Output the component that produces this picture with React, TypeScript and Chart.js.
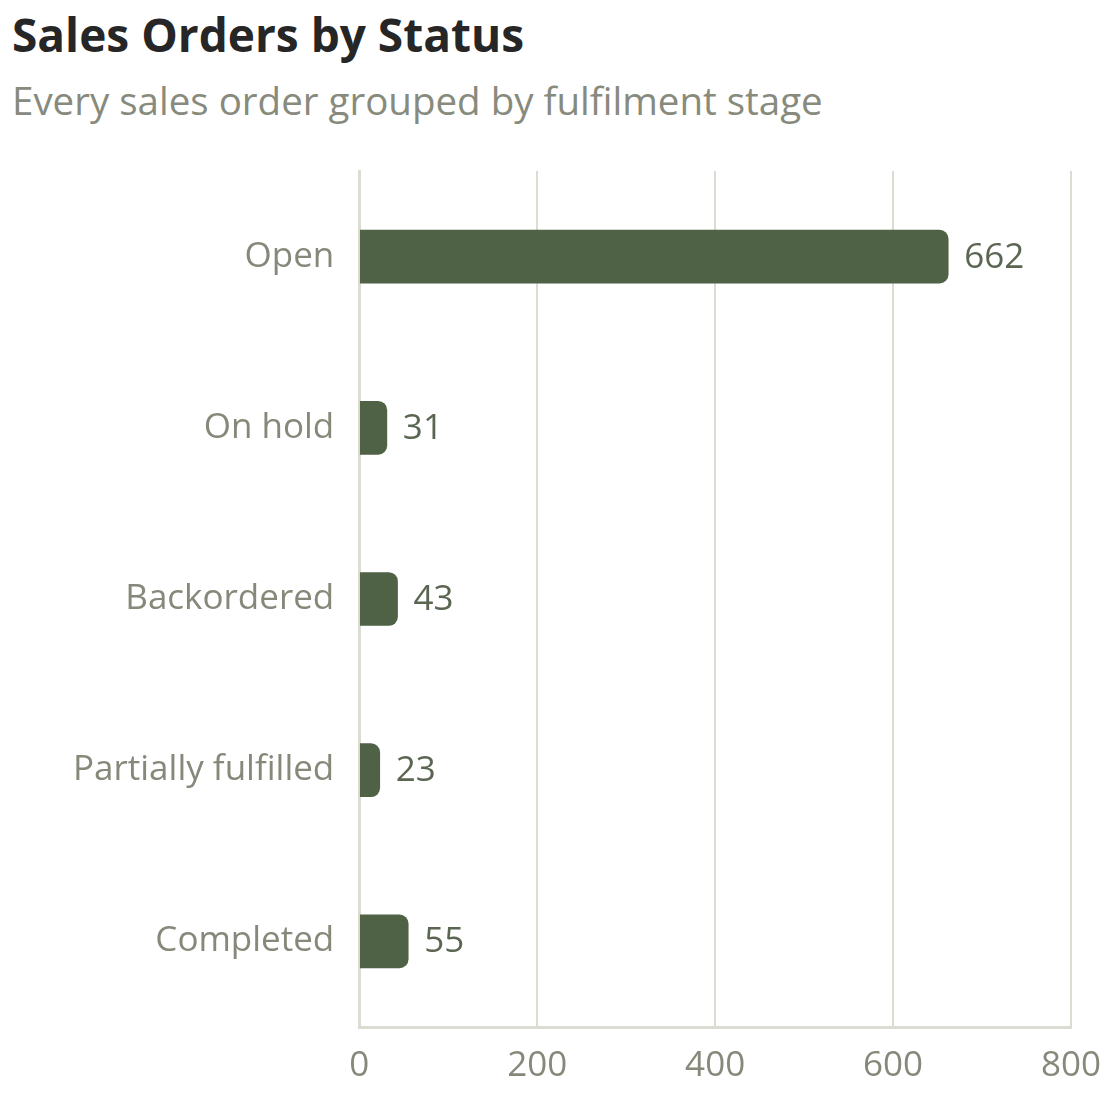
import { useEffect, useRef } from 'react'
import { Chart, registerables, Plugin } from 'chart.js'

Chart.register(...registerables)

const statuses = ['Open', 'On hold', 'Backordered', 'Partially fulfilled', 'Completed']
const orderCounts = [662, 31, 43, 23, 55]
const xTicks = [0, 200, 400, 600, 800]

const FONT = '"Open Sans", "Noto Sans", sans-serif'

// draws the count just past the end of each bar
const valueLabels: Plugin<'bar'> = {
  id: 'valueLabels',
  afterDatasetsDraw(chart) {
    const { ctx } = chart
    const meta = chart.getDatasetMeta(0)
    ctx.save()
    ctx.font = `35px ${FONT}`
    ctx.fillStyle = '#5b6652'
    ctx.textBaseline = 'middle'
    ctx.textAlign = 'left'
    meta.data.forEach((bar, i) => {
      const { x, y } = bar.getProps(['x', 'y'], true)
      ctx.fillText(String(orderCounts[i]), x + 16, y + 1)
    })
    ctx.restore()
  },
}

export default function App() {
  const canvasRef = useRef<HTMLCanvasElement>(null)
  const chartRef = useRef<Chart | null>(null)

  useEffect(() => {
    if (!canvasRef.current) return
    chartRef.current?.destroy()

    chartRef.current = new Chart(canvasRef.current, {
      type: 'bar',
      data: {
        labels: statuses,
        datasets: [
          {
            label: 'Orders',
            data: orderCounts,
            backgroundColor: '#4f6246',
            borderRadius: 9,
            borderSkipped: 'start',
            barThickness: 53,
          },
        ],
      },
      options: {
        indexAxis: 'y',
        animation: false,
        responsive: true,
        maintainAspectRatio: false,
        layout: { padding: { top: 0, right: 3, left: 48, bottom: 0 } },
        plugins: {
          legend: { display: false },
          tooltip: { enabled: false },
        },
        scales: {
          x: {
            min: 0,
            max: 800,
            afterBuildTicks: axis => {
              axis.ticks = xTicks.map(v => ({ value: v }))
            },
            grid: { color: '#dcdcd2', lineWidth: 2, drawTicks: false },
            border: { color: '#dcdcd2', width: 3 },
            ticks: { color: '#86887a', font: { size: 35, family: FONT }, padding: 18 },
          },
          y: {
            grid: { display: false },
            border: { color: '#dcdcd2', width: 3 },
            ticks: { color: '#86887a', font: { size: 35, family: FONT }, padding: 17 },
          },
        },
      },
      plugins: [valueLabels],
    })

    return () => { chartRef.current?.destroy() }
  }, [])

  return (
    <div style={{ fontFamily: FONT, width: 1104, height: 1082, position: 'relative', overflow: 'hidden' }}>
      <div style={{ position: 'absolute', left: 4, top: -4, fontSize: 46, fontWeight: 700, color: '#262626', lineHeight: '60px', whiteSpace: 'nowrap' }}>
        Sales Orders by Status
      </div>
      <div style={{ position: 'absolute', left: 4, top: 66, fontSize: 38.5, color: '#878a7c', lineHeight: '52px', whiteSpace: 'nowrap' }}>
        Every sales order grouped by fulfilment stage
      </div>
      <div style={{ position: 'absolute', left: 0, top: 125, width: 1111, height: 972 }}>
        <canvas ref={canvasRef} />
      </div>
    </div>
  )
}
